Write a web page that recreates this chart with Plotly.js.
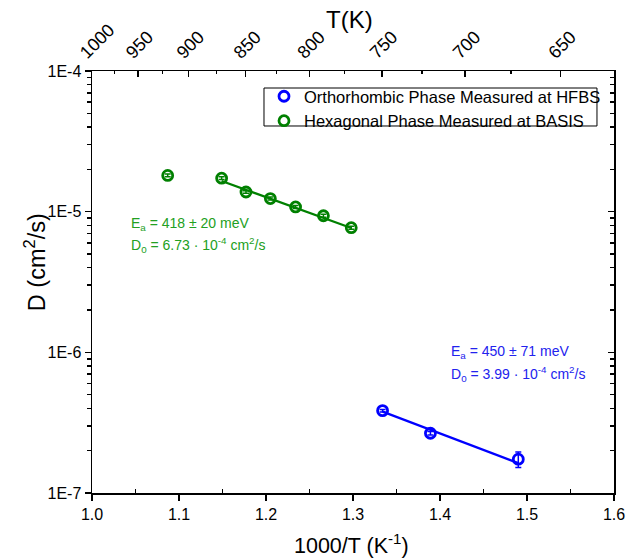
<!DOCTYPE html>
<html>
<head>
<meta charset="utf-8">
<script src="https://cdn.plot.ly/plotly-3.0.1.min.js"></script>
<style>html,body{margin:0;padding:0;background:#fff;}#chart{width:630px;height:560px;}</style>
</head>
<body>
<div id="chart"></div>
<script>
// Hexagonal phase (BASIS)
const hexX = [1.087, 1.149, 1.177, 1.205, 1.234, 1.266, 1.298];
const hexD = [1.81e-5, 1.73e-5, 1.38e-5, 1.24e-5, 1.08e-5, 9.35e-6, 7.69e-6];
const hexErr = [4e-7, 4e-7, 3e-7, 3e-7, 2.5e-7, 2.2e-7, 2e-7];
// Hexagonal fit line (end points)
const hexFitX = [1.149, 1.298];
const hexFitD = [1.65e-5, 7.66e-6];

// Orthorhombic phase (HFBS)
const orthX = [1.334, 1.389, 1.490];
const orthD = [3.85e-7, 2.66e-7, 1.74e-7];
const orthErr = [8e-9, 8e-9, 2.2e-8];
// Orthorhombic fit line
const orthFitX = [1.334, 1.490];
const orthFitD = [3.79e-7, 1.63e-7];

// Axis ticks
const yTickVals = [1e-7, 1e-6, 1e-5, 1e-4];
const yTickText = ['1E-7', '1E-6', '1E-5', '1E-4'];
const xTickVals = [1.0, 1.1, 1.2, 1.3, 1.4, 1.5, 1.6];
const xTickText = ['1.0', '1.1', '1.2', '1.3', '1.4', '1.5', '1.6'];
const topT = [1000, 950, 900, 850, 800, 750, 700, 650];
const topTMinor = [975, 925, 875, 825, 775, 725, 675, 625];

const yMinor = [];
[-7, -6, -5].forEach(e => { for (let d = 2; d <= 9; d++) yMinor.push(d * Math.pow(10, e)); });

const FONT = 'Liberation Sans, Arial, sans-serif';
const GREEN = '#008000';
const BLUE = '#0000ff';

const traces = [
  {
    x: orthX, y: orthD, type: 'scatter', mode: 'markers',
    name: 'Orthorhombic Phase Measured at HFBS',
    marker: {symbol: 'circle-open', size: 10, color: BLUE, line: {width: 2.8, color: BLUE}},
    error_y: {type: 'data', array: orthErr, visible: true, color: BLUE, thickness: 1.5, width: 3}
  },
  {
    x: hexX, y: hexD, type: 'scatter', mode: 'markers',
    name: 'Hexagonal Phase Measured at BASIS',
    marker: {symbol: 'circle-open', size: 10, color: GREEN, line: {width: 2.8, color: GREEN}},
    error_y: {type: 'data', array: hexErr, visible: true, color: GREEN, thickness: 1.5, width: 3}
  },
  {
    x: hexFitX, y: hexFitD, type: 'scatter', mode: 'lines', showlegend: false,
    line: {color: GREEN, width: 2.2}, hoverinfo: 'skip'
  },
  {
    x: orthFitX, y: orthFitD, type: 'scatter', mode: 'lines', showlegend: false,
    line: {color: BLUE, width: 2.2}, hoverinfo: 'skip'
  },
  {
    x: hexX, y: hexD, xaxis: 'x2', yaxis: 'y2', type: 'scatter', mode: 'markers',
    showlegend: false, hoverinfo: 'skip', marker: {opacity: 0}
  }
];

const layout = {
  width: 630, height: 560,
  margin: {l: 92, r: 16, t: 71, b: 67},
  paper_bgcolor: '#fff', plot_bgcolor: '#fff',
  font: {family: FONT, size: 15, color: '#000'},
  showlegend: true,
  legend: {
    x: 0.3295, y: 0.981, xanchor: 'left', yanchor: 'top',
    borderwidth: 0, bgcolor: 'rgba(0,0,0,0)',
    font: {family: FONT, size: 16.5, color: '#000'},
    tracegroupgap: 0, itemwidth: 30
  },
  shapes: [
    {type: 'rect', xref: 'paper', yref: 'paper', x0: 0.3295, x1: 0.9674, y0: 0.8697, y1: 0.9597,
     line: {color: '#000', width: 1}, fillcolor: 'rgba(0,0,0,0)', layer: 'above'}
  ],
  xaxis: {
    type: 'linear', range: [1.0, 1.6], showgrid: false, zeroline: false,
    showline: true, linecolor: '#000', linewidth: 1.5,
    tickmode: 'array', tickvals: xTickVals, ticktext: xTickText,
    ticks: 'outside', ticklen: 6, tickwidth: 1.5, tickcolor: '#000',
    tickfont: {family: FONT, size: 16},
    minor: {tickmode: 'linear', tick0: 1.05, dtick: 0.1, ticks: 'inside', ticklen: 4, tickwidth: 1.5, tickcolor: '#000', showgrid: false}
  },
  xaxis2: {
    overlaying: 'x', side: 'top', anchor: 'y', type: 'linear', range: [1.0, 1.6],
    showgrid: false, zeroline: false, showline: true, linecolor: '#000', linewidth: 1.5,
    tickmode: 'array', tickvals: topT.map(t => 1000 / t), ticktext: topT.map(String),
    ticks: 'inside', ticklen: 6, tickwidth: 1.5, tickcolor: '#000', tickangle: -45,
    tickfont: {family: FONT, size: 18}, ticklabelshift: -11,
    minor: {tickmode: 'array', tickvals: topTMinor.map(t => 1000 / t), ticks: 'inside', ticklen: 3, tickwidth: 1.5, tickcolor: '#000', showgrid: false}
  },
  yaxis: {
    type: 'log', range: [-7, -4], showgrid: false, zeroline: false,
    showline: true, linecolor: '#000', linewidth: 1.5,
    tickmode: 'array', tickvals: yTickVals, ticktext: yTickText,
    ticks: 'outside', ticklen: 6, tickwidth: 1.5, tickcolor: '#000',
    tickfont: {family: FONT, size: 16},
    minor: {tickmode: 'array', tickvals: yMinor, ticks: 'outside', ticklen: 4, tickwidth: 1.5, tickcolor: '#000', showgrid: false}
  },
  yaxis2: {
    overlaying: 'y', side: 'right', anchor: 'x', type: 'log', range: [-7, -4],
    showgrid: false, zeroline: false, showline: true, linecolor: '#000', linewidth: 1.5,
    tickmode: 'array', tickvals: yTickVals, showticklabels: false,
    ticks: 'inside', ticklen: 6, tickwidth: 1.5, tickcolor: '#000',
    minor: {tickmode: 'array', tickvals: yMinor, ticks: 'inside', ticklen: 4, tickwidth: 1.5, tickcolor: '#000', showgrid: false}
  },
  annotations: [
    // axis titles
    {xref: 'paper', yref: 'paper', x: 0.498, y: -0.121, xanchor: 'center', yanchor: 'middle', showarrow: false,
     text: '1000/T (K<sup>-1</sup>)', font: {family: FONT, size: 21.5, color: '#000'}},
    {xref: 'paper', yref: 'paper', x: -0.1092, y: 0.547, xanchor: 'center', yanchor: 'middle', showarrow: false,
     textangle: -90, text: 'D (cm<sup>2</sup>/s)', font: {family: FONT, size: 23.5, color: '#000'}},
    {xref: 'paper', yref: 'paper', x: 0.494, y: 1.1209, xanchor: 'center', yanchor: 'middle', showarrow: false,
     text: 'T(K)', font: {family: FONT, size: 24, color: '#000'}},
    // fit results
    {xref: 'x', yref: 'y', x: 1.0425, y: -5.088, xanchor: 'left', yanchor: 'middle', showarrow: false,
     text: 'E<sub>a</sub> = 418 ± 20 meV', font: {family: FONT, size: 14, color: '#22a022'}},
    {xref: 'x', yref: 'y', x: 1.0425, y: -5.237, xanchor: 'left', yanchor: 'middle', showarrow: false,
     text: 'D<sub>0</sub> = 6.73 · 10<sup>-4</sup> cm<sup>2</sup>/s', font: {family: FONT, size: 14, color: '#22a022'}},
    {xref: 'x', yref: 'y', x: 1.4098, y: -5.9975, xanchor: 'left', yanchor: 'middle', showarrow: false,
     text: 'E<sub>a</sub> = 450 ± 71 meV', font: {family: FONT, size: 14, color: '#2222ee'}},
    {xref: 'x', yref: 'y', x: 1.4098, y: -6.154, xanchor: 'left', yanchor: 'middle', showarrow: false,
     text: 'D<sub>0</sub> = 3.99 · 10<sup>-4</sup> cm<sup>2</sup>/s', font: {family: FONT, size: 14, color: '#2222ee'}}
  ]
};

Plotly.newPlot('chart', traces, layout, {displayModeBar: false, staticPlot: true});
</script>
</body>
</html>
